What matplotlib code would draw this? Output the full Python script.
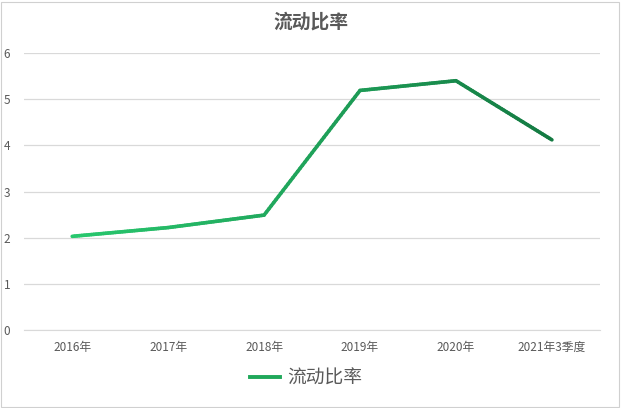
import numpy as np
import matplotlib
matplotlib.use('Agg')
import matplotlib.pyplot as plt
from matplotlib.collections import LineCollection
from matplotlib.colors import LinearSegmentedColormap
from matplotlib.lines import Line2D

plt.rcParams['font.family'] = ['Noto Sans CJK SC', 'DejaVu Sans']

# data
categories = ['2016年', '2017年', '2018年', '2019年', '2020年', '2021年3季度']
values = [2.03, 2.22, 2.49, 5.19, 5.40, 4.12]
series_name = '流动比率'

grey = '#595959'
cmap = LinearSegmentedColormap.from_list('g', ['#28c86e', '#1fa25a', '#147a42'])

fig = plt.figure(figsize=(6.21, 4.08), dpi=100)
ax = fig.add_axes([0.039, 0.191, 0.927, 0.679])

x = np.arange(len(categories))
# split each segment into short pieces so the colour can run left to right
pts_x, pts_y = [], []
for i in range(len(x) - 1):
    t = np.linspace(0, 1, 40, endpoint=False)
    pts_x.extend(x[i] + t * (x[i + 1] - x[i]))
    pts_y.extend(values[i] + t * (values[i + 1] - values[i]))
pts_x.append(x[-1])
pts_y.append(values[-1])
pts = np.column_stack([pts_x, pts_y]).reshape(-1, 1, 2)
segs = np.concatenate([pts[:-1], pts[1:]], axis=1)
lc = LineCollection(segs, cmap=cmap, linewidth=2.6, capstyle='round', joinstyle='round')
lc.set_array(np.array(pts_x[:-1]) / x[-1])
lc.set_clim(0, 1)
ax.add_collection(lc)

ax.set_xlim(-0.5, len(categories) - 0.5)
ax.set_ylim(0, 6)
ax.set_yticks(range(0, 7))
ax.set_xticks(x)
ax.set_xticklabels(categories)
ax.grid(axis='y', color='#d9d9d9', linewidth=0.9)
ax.set_axisbelow(True)
for s in ['top', 'right', 'left']:
    ax.spines[s].set_visible(False)
ax.spines['bottom'].set_color('#d9d9d9')
ax.tick_params(axis='both', length=0, colors=grey, labelsize=8.5)
ax.tick_params(axis='x', pad=8)
ax.tick_params(axis='y', pad=10)

fig.text(0.5, 0.945, series_name, ha='center', va='center', fontsize=13.5,
         color=grey, fontweight='bold')

handle = Line2D([], [], color='#1fa85a', linewidth=2.8)
fig.legend([handle], [series_name], loc='center', bbox_to_anchor=(0.493, 0.073),
           frameon=False, fontsize=13.5, handlelength=1.6, handletextpad=0.35,
           labelcolor=grey)

fig.patches.append(plt.Rectangle((0.002, 0.002), 0.994, 0.994, transform=fig.transFigure,
                                 fill=False, edgecolor='#d0d0d0', linewidth=0.8))

fig.savefig('out.png', dpi=100)
